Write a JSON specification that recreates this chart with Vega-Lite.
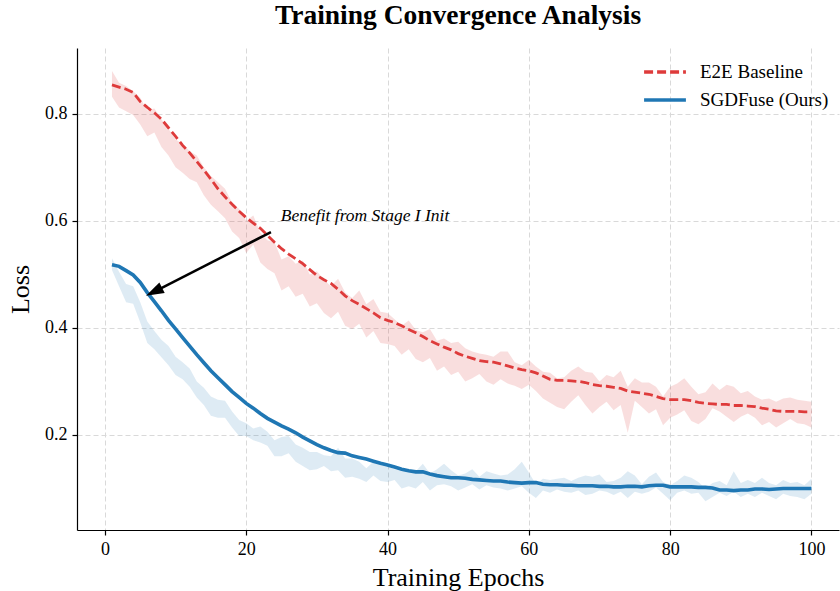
{
  "$schema": "https://vega.github.io/schema/vega-lite/v6.json",
  "width": 762,
  "height": 482,
  "autosize": {"type": "none"},
  "padding": {"left": 77, "top": 48, "right": 1, "bottom": 61},
  "background": "white",
  "title": {"text": "Training Convergence Analysis", "font": "Liberation Serif", "fontSize": 27.5, "fontWeight": "bold", "color": "black", "anchor": "middle", "offset": 19},
  "config": {
    "view": {"stroke": null},
    "axis": {
      "labelFont": "Liberation Serif", "labelFontSize": 18, "labelColor": "black",
      "titleFont": "Liberation Serif", "titleFontSize": 26, "titleFontWeight": "normal", "titleColor": "black",
      "domainColor": "black", "domainWidth": 1.2, "tickColor": "black", "tickSize": 5, "tickWidth": 1.2,
      "gridColor": "#d9d9d9", "gridDash": [5, 3], "gridWidth": 1, "labelPadding": 5
    },
    "legend": {"labelFont": "Liberation Serif", "labelFontSize": 19, "labelColor": "black"}
  },
  "datasets": {
    "curves": [
{"epoch":1,"series":"E2E Baseline","loss":0.854,"lo":0.832,"hi":0.880},
{"epoch":2,"series":"E2E Baseline","loss":0.850,"lo":0.812,"hi":0.858},
{"epoch":3,"series":"E2E Baseline","loss":0.846,"lo":0.805,"hi":0.852},
{"epoch":4,"series":"E2E Baseline","loss":0.840,"lo":0.798,"hi":0.842},
{"epoch":5,"series":"E2E Baseline","loss":0.823,"lo":0.780,"hi":0.830},
{"epoch":6,"series":"E2E Baseline","loss":0.812,"lo":0.758,"hi":0.806},
{"epoch":7,"series":"E2E Baseline","loss":0.802,"lo":0.765,"hi":0.810},
{"epoch":8,"series":"E2E Baseline","loss":0.790,"lo":0.738,"hi":0.790},
{"epoch":9,"series":"E2E Baseline","loss":0.774,"lo":0.722,"hi":0.772},
{"epoch":10,"series":"E2E Baseline","loss":0.758,"lo":0.700,"hi":0.752},
{"epoch":11,"series":"E2E Baseline","loss":0.741,"lo":0.690,"hi":0.744},
{"epoch":12,"series":"E2E Baseline","loss":0.727,"lo":0.678,"hi":0.730},
{"epoch":13,"series":"E2E Baseline","loss":0.711,"lo":0.672,"hi":0.722},
{"epoch":14,"series":"E2E Baseline","loss":0.695,"lo":0.648,"hi":0.700},
{"epoch":15,"series":"E2E Baseline","loss":0.678,"lo":0.630,"hi":0.684},
{"epoch":16,"series":"E2E Baseline","loss":0.660,"lo":0.618,"hi":0.672},
{"epoch":17,"series":"E2E Baseline","loss":0.645,"lo":0.605,"hi":0.660},
{"epoch":18,"series":"E2E Baseline","loss":0.631,"lo":0.580,"hi":0.634},
{"epoch":19,"series":"E2E Baseline","loss":0.618,"lo":0.568,"hi":0.622},
{"epoch":20,"series":"E2E Baseline","loss":0.606,"lo":0.540,"hi":0.600},
{"epoch":21,"series":"E2E Baseline","loss":0.596,"lo":0.556,"hi":0.610},
{"epoch":22,"series":"E2E Baseline","loss":0.586,"lo":0.522,"hi":0.578},
{"epoch":23,"series":"E2E Baseline","loss":0.573,"lo":0.510,"hi":0.564},
{"epoch":24,"series":"E2E Baseline","loss":0.560,"lo":0.502,"hi":0.560},
{"epoch":25,"series":"E2E Baseline","loss":0.548,"lo":0.470,"hi":0.528},
{"epoch":26,"series":"E2E Baseline","loss":0.538,"lo":0.478,"hi":0.534},
{"epoch":27,"series":"E2E Baseline","loss":0.529,"lo":0.458,"hi":0.520},
{"epoch":28,"series":"E2E Baseline","loss":0.520,"lo":0.464,"hi":0.526},
{"epoch":29,"series":"E2E Baseline","loss":0.509,"lo":0.440,"hi":0.500},
{"epoch":30,"series":"E2E Baseline","loss":0.498,"lo":0.446,"hi":0.506},
{"epoch":31,"series":"E2E Baseline","loss":0.490,"lo":0.428,"hi":0.490},
{"epoch":32,"series":"E2E Baseline","loss":0.483,"lo":0.418,"hi":0.478},
{"epoch":33,"series":"E2E Baseline","loss":0.472,"lo":0.430,"hi":0.492},
{"epoch":34,"series":"E2E Baseline","loss":0.460,"lo":0.404,"hi":0.466},
{"epoch":35,"series":"E2E Baseline","loss":0.451,"lo":0.398,"hi":0.456},
{"epoch":36,"series":"E2E Baseline","loss":0.444,"lo":0.408,"hi":0.470},
{"epoch":37,"series":"E2E Baseline","loss":0.436,"lo":0.382,"hi":0.444},
{"epoch":38,"series":"E2E Baseline","loss":0.428,"lo":0.394,"hi":0.454},
{"epoch":39,"series":"E2E Baseline","loss":0.419,"lo":0.372,"hi":0.430},
{"epoch":40,"series":"E2E Baseline","loss":0.414,"lo":0.370,"hi":0.428},
{"epoch":41,"series":"E2E Baseline","loss":0.410,"lo":0.366,"hi":0.416},
{"epoch":42,"series":"E2E Baseline","loss":0.404,"lo":0.350,"hi":0.404},
{"epoch":43,"series":"E2E Baseline","loss":0.397,"lo":0.360,"hi":0.414},
{"epoch":44,"series":"E2E Baseline","loss":0.391,"lo":0.342,"hi":0.396},
{"epoch":45,"series":"E2E Baseline","loss":0.384,"lo":0.336,"hi":0.392},
{"epoch":46,"series":"E2E Baseline","loss":0.376,"lo":0.344,"hi":0.398},
{"epoch":47,"series":"E2E Baseline","loss":0.370,"lo":0.320,"hi":0.376},
{"epoch":48,"series":"E2E Baseline","loss":0.364,"lo":0.328,"hi":0.380},
{"epoch":49,"series":"E2E Baseline","loss":0.359,"lo":0.312,"hi":0.372},
{"epoch":50,"series":"E2E Baseline","loss":0.352,"lo":0.318,"hi":0.374},
{"epoch":51,"series":"E2E Baseline","loss":0.347,"lo":0.300,"hi":0.362},
{"epoch":52,"series":"E2E Baseline","loss":0.343,"lo":0.306,"hi":0.356},
{"epoch":53,"series":"E2E Baseline","loss":0.339,"lo":0.314,"hi":0.352},
{"epoch":54,"series":"E2E Baseline","loss":0.337,"lo":0.300,"hi":0.350},
{"epoch":55,"series":"E2E Baseline","loss":0.336,"lo":0.294,"hi":0.346},
{"epoch":56,"series":"E2E Baseline","loss":0.333,"lo":0.304,"hi":0.356},
{"epoch":57,"series":"E2E Baseline","loss":0.329,"lo":0.296,"hi":0.356},
{"epoch":58,"series":"E2E Baseline","loss":0.325,"lo":0.292,"hi":0.336},
{"epoch":59,"series":"E2E Baseline","loss":0.322,"lo":0.286,"hi":0.330},
{"epoch":60,"series":"E2E Baseline","loss":0.320,"lo":0.294,"hi":0.340},
{"epoch":61,"series":"E2E Baseline","loss":0.316,"lo":0.282,"hi":0.328},
{"epoch":62,"series":"E2E Baseline","loss":0.310,"lo":0.268,"hi":0.318},
{"epoch":63,"series":"E2E Baseline","loss":0.304,"lo":0.260,"hi":0.316},
{"epoch":64,"series":"E2E Baseline","loss":0.302,"lo":0.252,"hi":0.306},
{"epoch":65,"series":"E2E Baseline","loss":0.302,"lo":0.248,"hi":0.308},
{"epoch":66,"series":"E2E Baseline","loss":0.301,"lo":0.262,"hi":0.320},
{"epoch":67,"series":"E2E Baseline","loss":0.300,"lo":0.274,"hi":0.328},
{"epoch":68,"series":"E2E Baseline","loss":0.298,"lo":0.256,"hi":0.318},
{"epoch":69,"series":"E2E Baseline","loss":0.294,"lo":0.240,"hi":0.316},
{"epoch":70,"series":"E2E Baseline","loss":0.292,"lo":0.252,"hi":0.300},
{"epoch":71,"series":"E2E Baseline","loss":0.291,"lo":0.262,"hi":0.312},
{"epoch":72,"series":"E2E Baseline","loss":0.289,"lo":0.246,"hi":0.308},
{"epoch":73,"series":"E2E Baseline","loss":0.287,"lo":0.256,"hi":0.320},
{"epoch":74,"series":"E2E Baseline","loss":0.282,"lo":0.204,"hi":0.290},
{"epoch":75,"series":"E2E Baseline","loss":0.280,"lo":0.264,"hi":0.306},
{"epoch":76,"series":"E2E Baseline","loss":0.278,"lo":0.252,"hi":0.298},
{"epoch":77,"series":"E2E Baseline","loss":0.276,"lo":0.240,"hi":0.298},
{"epoch":78,"series":"E2E Baseline","loss":0.272,"lo":0.248,"hi":0.290},
{"epoch":79,"series":"E2E Baseline","loss":0.268,"lo":0.218,"hi":0.272},
{"epoch":80,"series":"E2E Baseline","loss":0.266,"lo":0.232,"hi":0.290},
{"epoch":81,"series":"E2E Baseline","loss":0.266,"lo":0.238,"hi":0.296},
{"epoch":82,"series":"E2E Baseline","loss":0.266,"lo":0.246,"hi":0.306},
{"epoch":83,"series":"E2E Baseline","loss":0.264,"lo":0.226,"hi":0.290},
{"epoch":84,"series":"E2E Baseline","loss":0.261,"lo":0.220,"hi":0.276},
{"epoch":85,"series":"E2E Baseline","loss":0.259,"lo":0.230,"hi":0.280},
{"epoch":86,"series":"E2E Baseline","loss":0.258,"lo":0.250,"hi":0.296},
{"epoch":87,"series":"E2E Baseline","loss":0.257,"lo":0.244,"hi":0.284},
{"epoch":88,"series":"E2E Baseline","loss":0.257,"lo":0.234,"hi":0.294},
{"epoch":89,"series":"E2E Baseline","loss":0.255,"lo":0.224,"hi":0.290},
{"epoch":90,"series":"E2E Baseline","loss":0.255,"lo":0.234,"hi":0.278},
{"epoch":91,"series":"E2E Baseline","loss":0.254,"lo":0.240,"hi":0.282},
{"epoch":92,"series":"E2E Baseline","loss":0.253,"lo":0.232,"hi":0.272},
{"epoch":93,"series":"E2E Baseline","loss":0.250,"lo":0.218,"hi":0.266},
{"epoch":94,"series":"E2E Baseline","loss":0.248,"lo":0.224,"hi":0.268},
{"epoch":95,"series":"E2E Baseline","loss":0.245,"lo":0.214,"hi":0.262},
{"epoch":96,"series":"E2E Baseline","loss":0.244,"lo":0.222,"hi":0.268},
{"epoch":97,"series":"E2E Baseline","loss":0.244,"lo":0.230,"hi":0.270},
{"epoch":98,"series":"E2E Baseline","loss":0.244,"lo":0.222,"hi":0.266},
{"epoch":99,"series":"E2E Baseline","loss":0.243,"lo":0.220,"hi":0.264},
{"epoch":100,"series":"E2E Baseline","loss":0.243,"lo":0.214,"hi":0.262},
{"epoch":1,"series":"SGDFuse (Ours)","loss":0.518,"lo":0.508,"hi":0.530},
{"epoch":2,"series":"SGDFuse (Ours)","loss":0.515,"lo":0.478,"hi":0.505},
{"epoch":3,"series":"SGDFuse (Ours)","loss":0.507,"lo":0.448,"hi":0.482},
{"epoch":4,"series":"SGDFuse (Ours)","loss":0.499,"lo":0.445,"hi":0.478},
{"epoch":5,"series":"SGDFuse (Ours)","loss":0.485,"lo":0.410,"hi":0.448},
{"epoch":6,"series":"SGDFuse (Ours)","loss":0.466,"lo":0.372,"hi":0.412},
{"epoch":7,"series":"SGDFuse (Ours)","loss":0.449,"lo":0.360,"hi":0.394},
{"epoch":8,"series":"SGDFuse (Ours)","loss":0.432,"lo":0.345,"hi":0.378},
{"epoch":9,"series":"SGDFuse (Ours)","loss":0.414,"lo":0.330,"hi":0.366},
{"epoch":10,"series":"SGDFuse (Ours)","loss":0.398,"lo":0.312,"hi":0.346},
{"epoch":11,"series":"SGDFuse (Ours)","loss":0.382,"lo":0.304,"hi":0.336},
{"epoch":12,"series":"SGDFuse (Ours)","loss":0.366,"lo":0.290,"hi":0.324},
{"epoch":13,"series":"SGDFuse (Ours)","loss":0.350,"lo":0.270,"hi":0.300},
{"epoch":14,"series":"SGDFuse (Ours)","loss":0.335,"lo":0.256,"hi":0.288},
{"epoch":15,"series":"SGDFuse (Ours)","loss":0.320,"lo":0.236,"hi":0.272},
{"epoch":16,"series":"SGDFuse (Ours)","loss":0.307,"lo":0.232,"hi":0.266},
{"epoch":17,"series":"SGDFuse (Ours)","loss":0.294,"lo":0.232,"hi":0.264},
{"epoch":18,"series":"SGDFuse (Ours)","loss":0.281,"lo":0.214,"hi":0.244},
{"epoch":19,"series":"SGDFuse (Ours)","loss":0.270,"lo":0.198,"hi":0.228},
{"epoch":20,"series":"SGDFuse (Ours)","loss":0.259,"lo":0.198,"hi":0.222},
{"epoch":21,"series":"SGDFuse (Ours)","loss":0.250,"lo":0.190,"hi":0.212},
{"epoch":22,"series":"SGDFuse (Ours)","loss":0.240,"lo":0.186,"hi":0.216},
{"epoch":23,"series":"SGDFuse (Ours)","loss":0.231,"lo":0.180,"hi":0.206},
{"epoch":24,"series":"SGDFuse (Ours)","loss":0.224,"lo":0.160,"hi":0.190},
{"epoch":25,"series":"SGDFuse (Ours)","loss":0.217,"lo":0.160,"hi":0.196},
{"epoch":26,"series":"SGDFuse (Ours)","loss":0.211,"lo":0.166,"hi":0.198},
{"epoch":27,"series":"SGDFuse (Ours)","loss":0.204,"lo":0.150,"hi":0.182},
{"epoch":28,"series":"SGDFuse (Ours)","loss":0.196,"lo":0.142,"hi":0.176},
{"epoch":29,"series":"SGDFuse (Ours)","loss":0.189,"lo":0.134,"hi":0.168},
{"epoch":30,"series":"SGDFuse (Ours)","loss":0.182,"lo":0.136,"hi":0.168},
{"epoch":31,"series":"SGDFuse (Ours)","loss":0.176,"lo":0.142,"hi":0.162},
{"epoch":32,"series":"SGDFuse (Ours)","loss":0.171,"lo":0.132,"hi":0.160},
{"epoch":33,"series":"SGDFuse (Ours)","loss":0.167,"lo":0.134,"hi":0.176},
{"epoch":34,"series":"SGDFuse (Ours)","loss":0.166,"lo":0.120,"hi":0.156},
{"epoch":35,"series":"SGDFuse (Ours)","loss":0.161,"lo":0.122,"hi":0.156},
{"epoch":36,"series":"SGDFuse (Ours)","loss":0.158,"lo":0.118,"hi":0.150},
{"epoch":37,"series":"SGDFuse (Ours)","loss":0.155,"lo":0.112,"hi":0.138},
{"epoch":38,"series":"SGDFuse (Ours)","loss":0.151,"lo":0.124,"hi":0.150},
{"epoch":39,"series":"SGDFuse (Ours)","loss":0.147,"lo":0.114,"hi":0.146},
{"epoch":40,"series":"SGDFuse (Ours)","loss":0.144,"lo":0.112,"hi":0.142},
{"epoch":41,"series":"SGDFuse (Ours)","loss":0.140,"lo":0.116,"hi":0.136},
{"epoch":42,"series":"SGDFuse (Ours)","loss":0.136,"lo":0.100,"hi":0.132},
{"epoch":43,"series":"SGDFuse (Ours)","loss":0.133,"lo":0.104,"hi":0.134},
{"epoch":44,"series":"SGDFuse (Ours)","loss":0.131,"lo":0.100,"hi":0.132},
{"epoch":45,"series":"SGDFuse (Ours)","loss":0.131,"lo":0.112,"hi":0.146},
{"epoch":46,"series":"SGDFuse (Ours)","loss":0.127,"lo":0.096,"hi":0.128},
{"epoch":47,"series":"SGDFuse (Ours)","loss":0.124,"lo":0.106,"hi":0.136},
{"epoch":48,"series":"SGDFuse (Ours)","loss":0.122,"lo":0.108,"hi":0.146},
{"epoch":49,"series":"SGDFuse (Ours)","loss":0.120,"lo":0.104,"hi":0.134},
{"epoch":50,"series":"SGDFuse (Ours)","loss":0.120,"lo":0.096,"hi":0.124},
{"epoch":51,"series":"SGDFuse (Ours)","loss":0.119,"lo":0.102,"hi":0.128},
{"epoch":52,"series":"SGDFuse (Ours)","loss":0.117,"lo":0.108,"hi":0.136},
{"epoch":53,"series":"SGDFuse (Ours)","loss":0.116,"lo":0.098,"hi":0.122},
{"epoch":54,"series":"SGDFuse (Ours)","loss":0.115,"lo":0.106,"hi":0.132},
{"epoch":55,"series":"SGDFuse (Ours)","loss":0.114,"lo":0.102,"hi":0.128},
{"epoch":56,"series":"SGDFuse (Ours)","loss":0.114,"lo":0.100,"hi":0.124},
{"epoch":57,"series":"SGDFuse (Ours)","loss":0.112,"lo":0.096,"hi":0.126},
{"epoch":58,"series":"SGDFuse (Ours)","loss":0.111,"lo":0.100,"hi":0.136},
{"epoch":59,"series":"SGDFuse (Ours)","loss":0.110,"lo":0.104,"hi":0.150},
{"epoch":60,"series":"SGDFuse (Ours)","loss":0.111,"lo":0.092,"hi":0.130},
{"epoch":61,"series":"SGDFuse (Ours)","loss":0.111,"lo":0.082,"hi":0.108},
{"epoch":62,"series":"SGDFuse (Ours)","loss":0.108,"lo":0.096,"hi":0.118},
{"epoch":63,"series":"SGDFuse (Ours)","loss":0.107,"lo":0.092,"hi":0.116},
{"epoch":64,"series":"SGDFuse (Ours)","loss":0.107,"lo":0.098,"hi":0.118},
{"epoch":65,"series":"SGDFuse (Ours)","loss":0.106,"lo":0.094,"hi":0.120},
{"epoch":66,"series":"SGDFuse (Ours)","loss":0.106,"lo":0.092,"hi":0.114},
{"epoch":67,"series":"SGDFuse (Ours)","loss":0.105,"lo":0.096,"hi":0.120},
{"epoch":68,"series":"SGDFuse (Ours)","loss":0.105,"lo":0.088,"hi":0.124},
{"epoch":69,"series":"SGDFuse (Ours)","loss":0.105,"lo":0.090,"hi":0.122},
{"epoch":70,"series":"SGDFuse (Ours)","loss":0.104,"lo":0.096,"hi":0.126},
{"epoch":71,"series":"SGDFuse (Ours)","loss":0.104,"lo":0.094,"hi":0.112},
{"epoch":72,"series":"SGDFuse (Ours)","loss":0.103,"lo":0.088,"hi":0.114},
{"epoch":73,"series":"SGDFuse (Ours)","loss":0.103,"lo":0.094,"hi":0.120},
{"epoch":74,"series":"SGDFuse (Ours)","loss":0.104,"lo":0.082,"hi":0.132},
{"epoch":75,"series":"SGDFuse (Ours)","loss":0.104,"lo":0.094,"hi":0.124},
{"epoch":76,"series":"SGDFuse (Ours)","loss":0.103,"lo":0.090,"hi":0.108},
{"epoch":77,"series":"SGDFuse (Ours)","loss":0.105,"lo":0.094,"hi":0.122},
{"epoch":78,"series":"SGDFuse (Ours)","loss":0.106,"lo":0.102,"hi":0.130},
{"epoch":79,"series":"SGDFuse (Ours)","loss":0.106,"lo":0.090,"hi":0.112},
{"epoch":80,"series":"SGDFuse (Ours)","loss":0.103,"lo":0.078,"hi":0.106},
{"epoch":81,"series":"SGDFuse (Ours)","loss":0.103,"lo":0.092,"hi":0.114},
{"epoch":82,"series":"SGDFuse (Ours)","loss":0.103,"lo":0.096,"hi":0.124},
{"epoch":83,"series":"SGDFuse (Ours)","loss":0.103,"lo":0.090,"hi":0.120},
{"epoch":84,"series":"SGDFuse (Ours)","loss":0.102,"lo":0.092,"hi":0.112},
{"epoch":85,"series":"SGDFuse (Ours)","loss":0.102,"lo":0.076,"hi":0.100},
{"epoch":86,"series":"SGDFuse (Ours)","loss":0.101,"lo":0.084,"hi":0.110},
{"epoch":87,"series":"SGDFuse (Ours)","loss":0.097,"lo":0.092,"hi":0.114},
{"epoch":88,"series":"SGDFuse (Ours)","loss":0.097,"lo":0.086,"hi":0.106},
{"epoch":89,"series":"SGDFuse (Ours)","loss":0.096,"lo":0.094,"hi":0.132},
{"epoch":90,"series":"SGDFuse (Ours)","loss":0.097,"lo":0.084,"hi":0.110},
{"epoch":91,"series":"SGDFuse (Ours)","loss":0.097,"lo":0.090,"hi":0.116},
{"epoch":92,"series":"SGDFuse (Ours)","loss":0.099,"lo":0.084,"hi":0.110},
{"epoch":93,"series":"SGDFuse (Ours)","loss":0.099,"lo":0.092,"hi":0.120},
{"epoch":94,"series":"SGDFuse (Ours)","loss":0.098,"lo":0.086,"hi":0.110},
{"epoch":95,"series":"SGDFuse (Ours)","loss":0.099,"lo":0.080,"hi":0.106},
{"epoch":96,"series":"SGDFuse (Ours)","loss":0.100,"lo":0.090,"hi":0.116},
{"epoch":97,"series":"SGDFuse (Ours)","loss":0.100,"lo":0.086,"hi":0.110},
{"epoch":98,"series":"SGDFuse (Ours)","loss":0.100,"lo":0.084,"hi":0.112},
{"epoch":99,"series":"SGDFuse (Ours)","loss":0.100,"lo":0.080,"hi":0.106},
{"epoch":100,"series":"SGDFuse (Ours)","loss":0.100,"lo":0.090,"hi":0.118}
    ],
    "arrow": [{"x0": 23.5, "y0": 0.579, "x1": 6.95, "y1": 0.4675}],
    "note": [{"x": 24.9, "y": 0.609, "label": "Benefit from Stage I Init"}]
  },
  "layer": [
    {
      "data": {"name": "curves"},
      "transform": [{"filter": "datum.series === 'E2E Baseline'"}],
      "mark": {"type": "area", "color": "#de3b3b", "fillOpacity": 0.17, "interpolate": "linear"},
      "encoding": {
        "x": {"field": "epoch", "type": "quantitative", "scale": {"domain": [-3.95, 103.9], "nice": false, "zero": false},
              "axis": {"values": [0, 20, 40, 60, 80, 100], "title": "Training Epochs", "titlePadding": 6, "grid": true}},
        "y": {"field": "lo", "type": "quantitative", "scale": {"domain": [0.0224, 0.923], "nice": false, "zero": false},
              "axis": {"values": [0.2, 0.4, 0.6, 0.8], "format": ".1f", "title": "Loss", "titlePadding": 11, "grid": true}},
        "y2": {"field": "hi"}
      }
    },
    {
      "data": {"name": "curves"},
      "transform": [{"filter": "datum.series === 'SGDFuse (Ours)'"}],
      "mark": {"type": "area", "color": "#1f77b4", "fillOpacity": 0.15, "interpolate": "linear"},
      "encoding": {
        "x": {"field": "epoch", "type": "quantitative"},
        "y": {"field": "lo", "type": "quantitative"},
        "y2": {"field": "hi"}
      }
    },
    {
      "data": {"name": "curves"},
      "transform": [{"filter": "datum.series === 'E2E Baseline'"}],
      "mark": {"type": "line", "interpolate": "linear", "strokeWidth": 2.8, "strokeDash": [9, 4]},
      "encoding": {
        "x": {"field": "epoch", "type": "quantitative"},
        "y": {"field": "loss", "type": "quantitative"},
        "stroke": {"field": "series", "type": "nominal", "scale": {"domain": ["E2E Baseline", "SGDFuse (Ours)"], "range": ["#de3b3b", "#1f77b4"]},
                  "legend": {"title": null, "orient": "top-right", "offset": 10, "padding": 0, "symbolType": "stroke", "symbolSize": 1750, "symbolStrokeWidth": 3.5, "labelOffset": 12, "rowPadding": 0, "clipHeight": 28,
                             "encode": {"symbols": {"update": {"strokeDash": {"signal": "datum.value === 'E2E Baseline' ? [9, 4] : [1, 0]"}}}}}}
      }
    },
    {
      "data": {"name": "curves"},
      "transform": [{"filter": "datum.series === 'SGDFuse (Ours)'"}],
      "mark": {"type": "line", "interpolate": "linear", "strokeWidth": 3.6},
      "encoding": {
        "x": {"field": "epoch", "type": "quantitative"},
        "y": {"field": "loss", "type": "quantitative"},
        "stroke": {"field": "series", "type": "nominal"}
      }
    },
    {
      "data": {"name": "arrow"},
      "mark": {"type": "rule", "color": "black", "strokeWidth": 2.5},
      "encoding": {
        "x": {"field": "x0", "type": "quantitative"},
        "y": {"field": "y0", "type": "quantitative"},
        "x2": {"field": "x1"},
        "y2": {"field": "y1"}
      }
    },
    {
      "data": {"name": "arrow"},
      "mark": {"type": "point", "shape": "M-1,0L1,-0.65L1,0.65Z", "filled": true, "color": "black", "opacity": 1, "size": 324, "angle": 333},
      "encoding": {
        "x": {"field": "x1", "type": "quantitative"},
        "y": {"field": "y1", "type": "quantitative"}
      }
    },
    {
      "data": {"name": "note"},
      "mark": {"type": "text", "font": "Liberation Serif", "fontStyle": "italic", "fontSize": 17.5, "align": "left", "baseline": "middle", "color": "black"},
      "encoding": {
        "x": {"field": "x", "type": "quantitative"},
        "y": {"field": "y", "type": "quantitative"},
        "text": {"field": "label"}
      }
    }
  ]
}
